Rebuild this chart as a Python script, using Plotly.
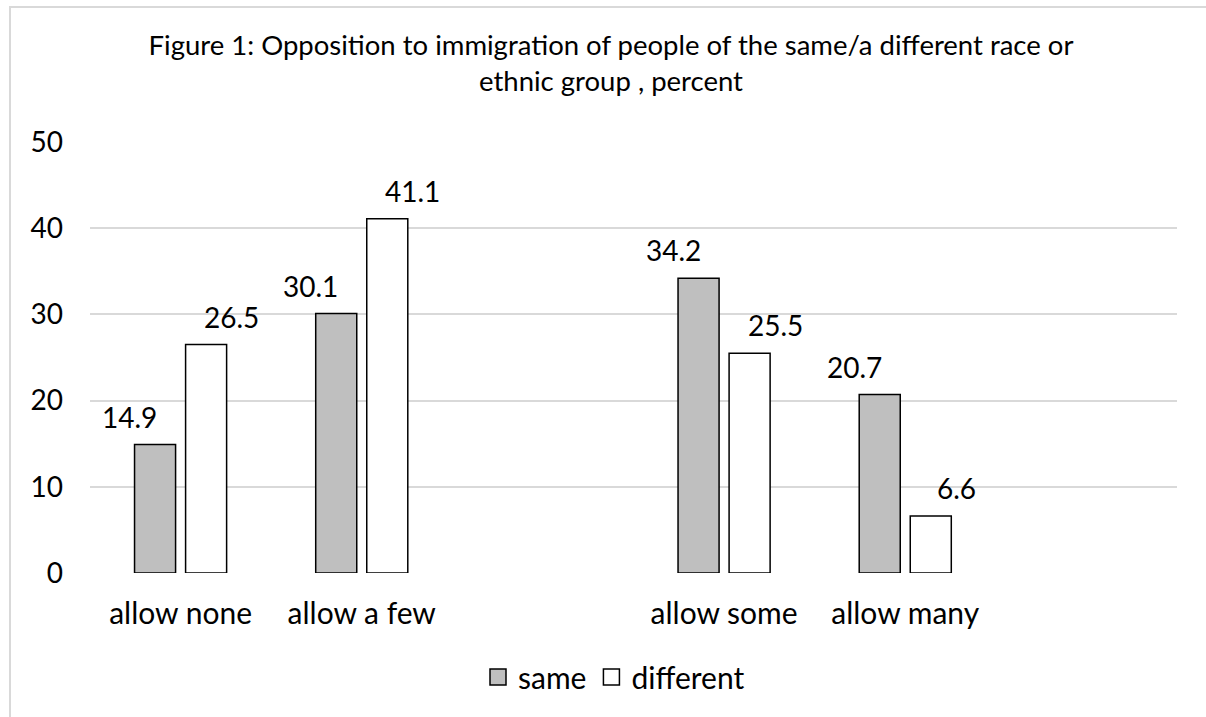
import plotly.graph_objects as go

# Response categories (blank slots keep Excel-style spacing between groups)
categories = ["allow none", "allow a few", " ", "allow some", "allow many", "  "]
same = [14.9, 30.1, None, 34.2, 20.7, None]
different = [26.5, 41.1, None, 25.5, 6.6, None]
y_ticks = [0, 10, 20, 30, 40, 50]

FONT = "Lato, Carlito, Calibri, 'Open Sans', sans-serif"
W, H = 1206, 717
L, R, T, B = 90, 29, 142, 144
plot_w = W - L - R
plot_h = H - T - B

series = [("same", same, "#BFBFBF"), ("different", different, "#FFFFFF")]

fig = go.Figure()
for name, vals, color in series:
    fig.add_trace(go.Bar(
        name=name, x=categories, y=vals, showlegend=False, legendgroup=name,
        marker=dict(color=color, line=dict(color="#000000", width=1.5)),
    ))
# larger square swatches for the legend
for name, vals, color in series:
    fig.add_trace(go.Scatter(
        name=name, x=[None], y=[None], mode="markers", legendgroup=name,
        marker=dict(symbol="square", size=18, color=color,
                    line=dict(color="#000000", width=1.5)),
    ))

# value labels above each bar
bar_offset = plot_w / len(categories) * 0.2818
for (name, vals, _), sign in zip(series, (-1, 1)):
    for cat, v in zip(categories, vals):
        if v is None:
            continue
        fig.add_annotation(
            x=cat, y=v, text=f"{v:.1f}", showarrow=False,
            xshift=sign * bar_offset, yshift=28, yanchor="middle",
            font=dict(family=FONT, size=28, color="#000000"),
        )

# light chart-area frame
def px_to_paper_x(px):
    return (px - L) / plot_w

def px_to_paper_y(py):
    return (H - B - py) / plot_h

fig.add_shape(
    type="rect", xref="paper", yref="paper",
    x0=px_to_paper_x(10), x1=px_to_paper_x(1212),
    y0=px_to_paper_y(740), y1=px_to_paper_y(7),
    line=dict(color="#D9D9D9", width=2), fillcolor="rgba(0,0,0,0)", layer="below",
)

fig.update_layout(
    width=W, height=H,
    margin=dict(l=L, r=R, t=T, b=B, autoexpand=False),
    paper_bgcolor="white", plot_bgcolor="white",
    barmode="group", bargap=0.4365, bargroupgap=0.196,
    font=dict(family=FONT, color="#000000"),
    title=dict(
        text="Figure 1: Opposition to immigration of people of the same/a different race or<br>ethnic group , percent",
        x=611 / W, xref="container", xanchor="center",
        y=1 - 55 / H, yref="container", yanchor="middle",
        font=dict(family=FONT, size=27.5, color="#000000"),
    ),
    showlegend=True,
    legend=dict(
        orientation="h", x=px_to_paper_x(614), xanchor="center",
        y=px_to_paper_y(677), yanchor="middle",
        font=dict(family=FONT, size=30, color="#000000"),
        itemwidth=30, traceorder="normal", itemsizing="trace",
    ),
    xaxis=dict(
        categoryorder="array", categoryarray=categories,
        showgrid=False, showline=False, zeroline=False, ticks="",
        tickfont=dict(family=FONT, size=30, color="#000000"),
        ticklabelstandoff=20,
    ),
    yaxis=dict(
        range=[0, 50], tickvals=y_ticks, showgrid=True,
        gridcolor="#D9D9D9", gridwidth=1.5, zeroline=False, showline=False,
        ticks="", tickfont=dict(family=FONT, size=28, color="#000000"),
        ticklabelstandoff=26,
    ),
)

fig.write_html("out.html")
